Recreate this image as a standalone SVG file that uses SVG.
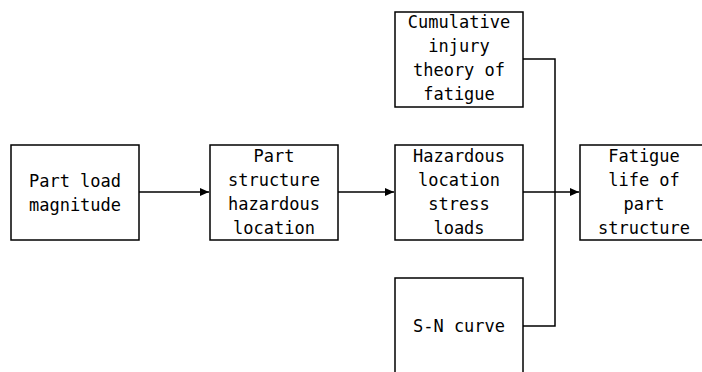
<svg xmlns="http://www.w3.org/2000/svg" width="702" height="372" viewBox="0 0 702 372">
<style>
rect{fill:#fff;stroke:#000;stroke-width:1.5}
text{font-family:"DejaVu Sans Mono","Liberation Mono",monospace;font-size:17px;text-anchor:middle;fill:#000}
.c{fill:none;stroke:#000;stroke-width:1.5}
</style>
<defs><marker id="a" markerWidth="10" markerHeight="10" refX="9" refY="5" orient="auto" markerUnits="userSpaceOnUse"><path d="M0,1 L9,5 L0,9 Z" fill="#000"/></marker></defs>
<rect width="702" height="372" style="stroke:none"/>
<g id="n1"><rect x="11" y="145" width="128" height="95"/><text x="75" y="187">Part load</text><text x="75" y="211">magnitude</text></g>
<g id="n2"><rect x="210" y="145" width="128" height="95"/><text x="274" y="162">Part</text><text x="274" y="186">structure</text><text x="274" y="210">hazardous</text><text x="274" y="234">location</text></g>
<g id="n3"><rect x="395" y="145" width="128" height="95"/><text x="459" y="162">Hazardous</text><text x="459" y="186">location</text><text x="459" y="210">stress</text><text x="459" y="234">loads</text></g>
<g id="n4"><rect x="395" y="12" width="128" height="95"/><text x="459" y="28">Cumulative</text><text x="459" y="52">injury</text><text x="459" y="76">theory of</text><text x="459" y="100">fatigue</text></g>
<g id="n5"><rect x="395" y="278" width="128" height="96"/><text x="459" y="332">S-N curve</text></g>
<g id="n6"><rect x="580" y="145" width="128" height="95"/><text x="644" y="162">Fatigue</text><text x="644" y="186">life of</text><text x="644" y="210">part</text><text x="644" y="234">structure</text></g>
<g id="connectors">
<line class="c" x1="139" y1="192" x2="209" y2="192" marker-end="url(#a)"/>
<line class="c" x1="338" y1="192" x2="394" y2="192" marker-end="url(#a)"/>
<line class="c" x1="523" y1="192" x2="579" y2="192" marker-end="url(#a)"/>
<polyline class="c" points="523,59 555,59 555,326 523,326"/>
</g>
</svg>
